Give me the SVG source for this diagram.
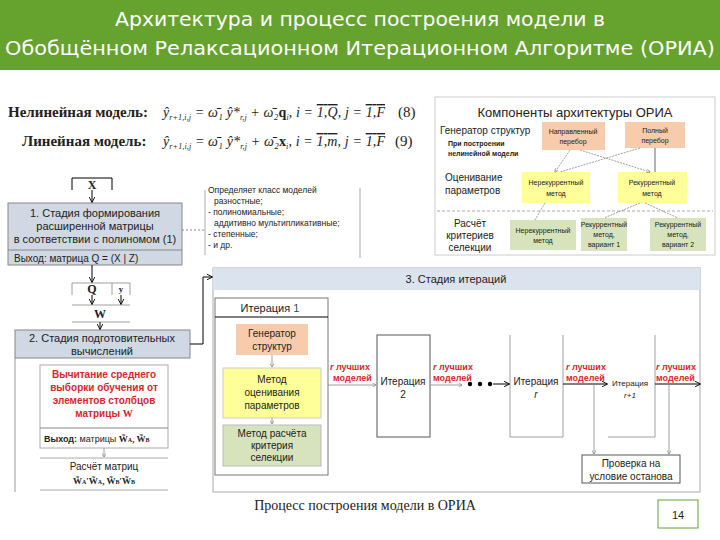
<svg xmlns="http://www.w3.org/2000/svg" width="720" height="540" viewBox="0 0 720 540">
<defs>
<marker id="a" viewBox="0 0 10 10" refX="9" refY="5" markerWidth="6" markerHeight="6" orient="auto"><path d="M0,0 L10,5 L0,10" fill="none" stroke="#000" stroke-width="1.5"/></marker>
<marker id="g" viewBox="0 0 10 10" refX="9" refY="5" markerWidth="5" markerHeight="5" orient="auto"><path d="M0,0 L10,5 L0,10" fill="none" stroke="#777" stroke-width="1.5"/></marker>
</defs>
<style>
text{font-family:"Liberation Sans",Arial,sans-serif;fill:#222}
.s{font-size:10px}.m{font-size:11px}.c{text-anchor:middle}
.ser{font-family:"Liberation Serif","Times New Roman",serif}
.r{fill:#d8262e;font-weight:bold;font-size:9px}
.ln{stroke:#000;stroke-width:1;fill:none}
.gl{stroke:#888;stroke-width:0.8;fill:none}
</style>
<rect width="720" height="540" fill="#fff"/>
<g id="title">
<rect x="0" y="0" width="720" height="70" fill="#65a22e"/>
<text x="360" y="26" class="c" style="font-size:20px;fill:#fff;font-family:'DejaVu Sans Condensed','DejaVu Sans',sans-serif" textLength="490" lengthAdjust="spacingAndGlyphs">Архитектура и процесс построения модели в</text>
<text x="360" y="55" class="c" style="font-size:20px;fill:#fff;font-family:'DejaVu Sans Condensed','DejaVu Sans',sans-serif" textLength="710" lengthAdjust="spacingAndGlyphs">Обобщённом Релаксационном Итерационном Алгоритме (ОРИА)</text>
</g>
<g id="formulas">
<text x="8" y="117" class="ser" style="font-size:15px;font-weight:bold">Нелинейная модель:</text>
<text x="163" y="117" class="ser" style="font-size:14px;font-style:italic" textLength="222">ŷ<tspan font-size="8" dy="3">r+1,i,j</tspan><tspan dy="-3"> = ω̄₁ ŷ*</tspan><tspan font-size="8" dy="3">r,j</tspan><tspan dy="-3"> + ω̄₂</tspan><tspan font-weight="bold" font-style="normal">q</tspan><tspan font-size="8" dy="3">i</tspan><tspan dy="-3">,  i = </tspan><tspan text-decoration="overline">1,Q</tspan>, j = <tspan text-decoration="overline">1,F</tspan></text>
<text x="398" y="117" class="ser" style="font-size:15px">(8)</text>
<text x="22" y="146" class="ser" style="font-size:15px;font-weight:bold">Линейная модель:</text>
<text x="163" y="146" class="ser" style="font-size:14px;font-style:italic" textLength="222">ŷ<tspan font-size="8" dy="3">r+1,i,j</tspan><tspan dy="-3"> = ω̄₁ ŷ*</tspan><tspan font-size="8" dy="3">r,j</tspan><tspan dy="-3"> + ω̄₂</tspan><tspan font-weight="bold" font-style="normal">x</tspan><tspan font-size="8" dy="3">i</tspan><tspan dy="-3">,  i = </tspan><tspan text-decoration="overline">1,m</tspan>, j = <tspan text-decoration="overline">1,F</tspan></text>
<text x="395" y="146" class="ser" style="font-size:15px">(9)</text>
</g>
<g id="components">
<rect x="435" y="97" width="280" height="158" fill="#fff" stroke="#ccc"/>
<text x="575" y="117" class="c" style="font-size:13px">Компоненты архитектуры ОРИА</text>
<text x="440" y="134" class="s">Генератор структур</text>
<text x="448" y="146" style="font-size:7px;font-weight:bold">При построении</text>
<text x="448" y="156" style="font-size:7px;font-weight:bold">нелинейной модели</text>
<text x="445" y="181" class="s">Оценивание</text>
<text x="445" y="194" class="s">параметров</text>
<text x="470" y="227" class="s c" fill="#555">Расчёт</text>
<text x="470" y="239" class="s c">критериев</text>
<text x="470" y="251" class="s c">селекции</text>
<rect x="542" y="122" width="63" height="28" fill="#f8cbad"/>
<text x="573" y="134" class="c" style="font-size:7px">Направленный</text><text x="573" y="144" class="c" style="font-size:7px">перебор</text>
<rect x="625" y="122" width="60" height="26" fill="#f8cbad"/>
<text x="655" y="133" class="c" style="font-size:7px">Полный</text><text x="655" y="143" class="c" style="font-size:7px">перебор</text>
<rect x="522" y="172" width="68" height="31" fill="#ffff99"/>
<text x="556" y="185" class="c" style="font-size:7px">Нерекуррентный</text><text x="556" y="196" class="c" style="font-size:7px">метод</text>
<rect x="618" y="172" width="69" height="31" fill="#ffff99"/>
<text x="652" y="185" class="c" style="font-size:7px">Рекуррентный</text><text x="652" y="196" class="c" style="font-size:7px">метод</text>
<line x1="437" y1="211" x2="713" y2="211" stroke="#aaa" stroke-dasharray="3,2"/>
<rect x="510" y="220" width="66" height="30" fill="#d6e3bc"/>
<text x="543" y="233" class="c" style="font-size:7px">Нерекуррентный</text><text x="543" y="243" class="c" style="font-size:7px">метод</text>
<rect x="581" y="218" width="46" height="33" fill="#d6e3bc"/>
<text x="604" y="227" class="c" style="font-size:7px">Рекуррентный</text><text x="604" y="237" class="c" style="font-size:7px">метод,</text><text x="604" y="247" class="c" style="font-size:7px">вариант 1</text>
<rect x="650" y="218" width="56" height="33" fill="#d6e3bc"/>
<text x="678" y="227" class="c" style="font-size:7px">Рекуррентный</text><text x="678" y="237" class="c" style="font-size:7px">метод,</text><text x="678" y="247" class="c" style="font-size:7px">вариант 2</text>
<g class="gl" stroke-dasharray="2,1">
<line x1="570" y1="150" x2="555" y2="172" marker-end="url(#g)"/>
<line x1="580" y1="150" x2="650" y2="172" marker-end="url(#g)"/>
<line x1="640" y1="148" x2="560" y2="172"/>
<line x1="545" y1="203" x2="535" y2="220"/>
<line x1="640" y1="203" x2="604" y2="218"/>
<line x1="645" y1="203" x2="678" y2="218"/>
</g>
<line x1="655" y1="148" x2="655" y2="172" stroke="#999" stroke-width="1.5"/>
</g>
<g id="stage1">
<path d="M72,190 V178 H112 V190" class="ln" stroke="#aaa"/>
<text x="92" y="189" class="c ser" style="font-size:12px;font-weight:bold">X</text>
<rect x="8" y="203" width="174" height="62" fill="#cfd8e3" stroke="#888"/>
<line x1="8" y1="250" x2="182" y2="250" stroke="#888"/>
<text x="95" y="217" class="m c">1. Стадия формирования</text>
<text x="95" y="230" class="m c">расширенной матрицы</text>
<text x="95" y="243" class="m c">в соответствии с полиномом (1)</text>
<text x="14" y="262" class="s">Выход: матрица Q = (X | Z)</text>
</g>
<g id="note">
<line x1="182" y1="230" x2="205" y2="230" stroke="#888" stroke-dasharray="2,2"/>
<line x1="205" y1="190" x2="205" y2="255" stroke="#aaa"/>
<line x1="360" y1="188" x2="360" y2="258" stroke="#aaa"/>
<text x="208" y="193" style="font-size:8.5px">Определяет класс моделей</text>
<text x="214" y="204" style="font-size:8.5px">разностные;</text>
<text x="208" y="215" style="font-size:8.5px">- полиномиальные;</text>
<text x="214" y="226" style="font-size:8.5px">аддитивно мультипликативные;</text>
<text x="208" y="237" style="font-size:8.5px">- степенные;</text>
<text x="208" y="248" style="font-size:8.5px">- и др.</text>
</g>
<g id="qyw">
<path d="M72,295 V283 H112 V295" class="gl"/>
<path d="M112,283 H130 V295" class="gl"/>
<text x="92" y="293" class="c ser" style="font-size:12px;font-weight:bold">Q</text>
<text x="121" y="292" class="c ser" style="font-size:9px;font-weight:bold">y</text>
<line x1="72" y1="305" x2="130" y2="305" class="gl"/>
<line x1="72" y1="322" x2="130" y2="322" class="gl"/>
<text x="100" y="318" class="c ser" style="font-size:12px;font-weight:bold">W</text>
</g>
<g id="stage2">
<rect x="15" y="330" width="175" height="28" fill="#cfd8e3" stroke="#888"/>
<text x="102" y="342" class="m c">2. Стадия подготовительных</text>
<text x="102" y="355" class="m c">вычислений</text>
<line x1="15" y1="358" x2="15" y2="492" stroke="#999"/>
<rect x="40" y="365" width="128" height="83" fill="#fff" stroke="#aaa"/>
<line x1="40" y1="428" x2="168" y2="428" stroke="#888"/>
<text x="104" y="378" class="c" style="font-size:10px;font-weight:bold;fill:#d8262e">Вычитание среднего</text>
<text x="104" y="391" class="c" style="font-size:10px;font-weight:bold;fill:#d8262e">выборки обучения от</text>
<text x="104" y="404" class="c" style="font-size:10px;font-weight:bold;fill:#d8262e">элементов столбцов</text>
<text x="104" y="417" class="c" style="font-size:10px;font-weight:bold;fill:#d8262e">матрицы <tspan class="ser">W</tspan></text>
<text x="44" y="442" style="font-size:9px"><tspan font-weight="bold">Выход:</tspan> матрицы <tspan class="ser" font-weight="bold">W̃<tspan font-size="6">A</tspan>, W̃<tspan font-size="6">B</tspan></tspan></text>
<line x1="40" y1="458" x2="168" y2="458" stroke="#aaa"/>
<line x1="40" y1="490" x2="168" y2="490" stroke="#aaa"/>
<text x="104" y="470" class="c" style="font-size:10px">Расчёт матриц</text>
<text x="104" y="484" class="c ser" style="font-size:9px;font-weight:bold">W̃<tspan font-size="6">A</tspan>′W̃<tspan font-size="6">A</tspan>, W̃<tspan font-size="6">B</tspan>′W̃<tspan font-size="6">B</tspan></text>
</g>
<g id="stage3">
<rect x="213" y="268" width="487" height="224" fill="#fff" stroke="#aaa"/>
<rect x="213" y="268" width="487" height="22" fill="#dbe3ee"/>
<text x="456" y="283" class="m c">3. Стадия итераций</text>
</g>
<g id="iter1">
<rect x="215" y="298" width="113" height="177" fill="#fff" stroke="#777"/>
<line x1="215" y1="317" x2="328" y2="317" stroke="#000"/>
<text x="270" y="312" class="m c">Итерация <tspan fill="#1f4e79">1</tspan></text>
<rect x="236" y="324" width="72" height="31" fill="#f8cbad"/>
<text x="272" y="337" class="s c">Генератор</text><text x="272" y="350" class="s c">структур</text>
<rect x="223" y="368" width="98" height="50" fill="#ffff99" stroke="#ccc"/>
<text x="272" y="383" class="s c">Метод</text><text x="272" y="396" class="s c">оценивания</text><text x="272" y="409" class="s c">параметров</text>
<rect x="223" y="425" width="98" height="41" fill="#d6e3bc" stroke="#bbb"/>
<text x="272" y="437" class="s c">Метод расчёта</text><text x="272" y="449" class="s c">критерия</text><text x="272" y="461" class="s c">селекции</text>
</g>
<g id="iter2"><rect x="377" y="335" width="53" height="102" fill="#fff" stroke="#555"/>
<text x="403" y="385" class="s c">Итерация</text><text x="403" y="398" class="s c">2</text></g>
<g id="iterr"><path d="M510,335 V437 H563 V335" class="gl" stroke="#555"/>
<text x="536" y="385" class="s c">Итерация</text><text x="536" y="398" class="s c" font-style="italic">r</text></g>
<g id="iterr1"><path d="M608,437 H655 V335" class="gl" stroke="#555"/>
<text x="630" y="386" class="c" style="font-size:8px">Итерация</text><text x="630" y="398" class="c" style="font-size:8px" font-style="italic">r+1</text></g>
<g id="check"><rect x="582" y="455" width="98" height="28" fill="#fff" stroke="#555"/>
<text x="631" y="467" class="s c">Проверка на</text><text x="631" y="480" class="s c">условие останова</text></g>
<g id="labels">
<text x="330" y="370" class="r"><tspan font-style="italic">r</tspan> лучших</text><text x="333" y="381" class="r">моделей</text>
<text x="433" y="370" class="r"><tspan font-style="italic">r</tspan> лучших</text><text x="433" y="381" class="r">моделей</text>
<text x="566" y="370" class="r"><tspan font-style="italic">r</tspan> лучших</text><text x="566" y="381" class="r">моделей</text>
<text x="656" y="370" class="r"><tspan font-style="italic">r</tspan> лучших</text><text x="656" y="381" class="r">моделей</text>
<circle cx="470" cy="384" r="2.2" fill="#000"/><circle cx="480" cy="384" r="2.2" fill="#000"/><circle cx="490" cy="384" r="2.2" fill="#000"/>
</g>
<g id="connectors">
<line x1="92" y1="190" x2="92" y2="202" class="ln" marker-end="url(#a)"/>
<line x1="92" y1="265" x2="92" y2="282" class="ln" marker-end="url(#a)"/>
<line x1="92" y1="295" x2="92" y2="304" class="ln" marker-end="url(#a)"/>
<line x1="121" y1="295" x2="121" y2="304" class="ln" marker-end="url(#a)"/>
<line x1="100" y1="322" x2="100" y2="329" class="ln" marker-end="url(#a)"/>
<line x1="104" y1="448" x2="104" y2="457" class="gl" marker-end="url(#g)"/>
<path d="M190,344 H203 V277 H212" class="ln" marker-end="url(#a)"/>
<line x1="272" y1="355" x2="272" y2="367" class="gl" marker-end="url(#g)"/>
<line x1="272" y1="418" x2="272" y2="424" class="gl" marker-end="url(#g)"/>
<line x1="328" y1="385" x2="376" y2="385" class="gl" stroke="#333" marker-end="url(#g)"/>
<line x1="430" y1="385" x2="462" y2="385" class="gl" stroke="#333" marker-end="url(#g)"/>
<line x1="493" y1="384" x2="509" y2="384" class="ln" marker-end="url(#a)"/>
<line x1="563" y1="384" x2="607" y2="384" class="ln" marker-end="url(#a)"/>
<line x1="655" y1="384" x2="700" y2="384" class="ln" marker-end="url(#a)"/>
<line x1="594" y1="384" x2="594" y2="454" class="gl" stroke="#555" marker-end="url(#g)"/>
<line x1="669" y1="384" x2="669" y2="454" class="gl" stroke="#555" marker-end="url(#g)"/>
</g>
<text x="365" y="510" class="c ser" style="font-size:14px">Процесс построения модели в ОРИА</text>
<g id="page"><rect x="658" y="500" width="40" height="28" fill="#fff" stroke="#65a22e"/>
<text x="678" y="519" class="m c">14</text></g>
</svg>
